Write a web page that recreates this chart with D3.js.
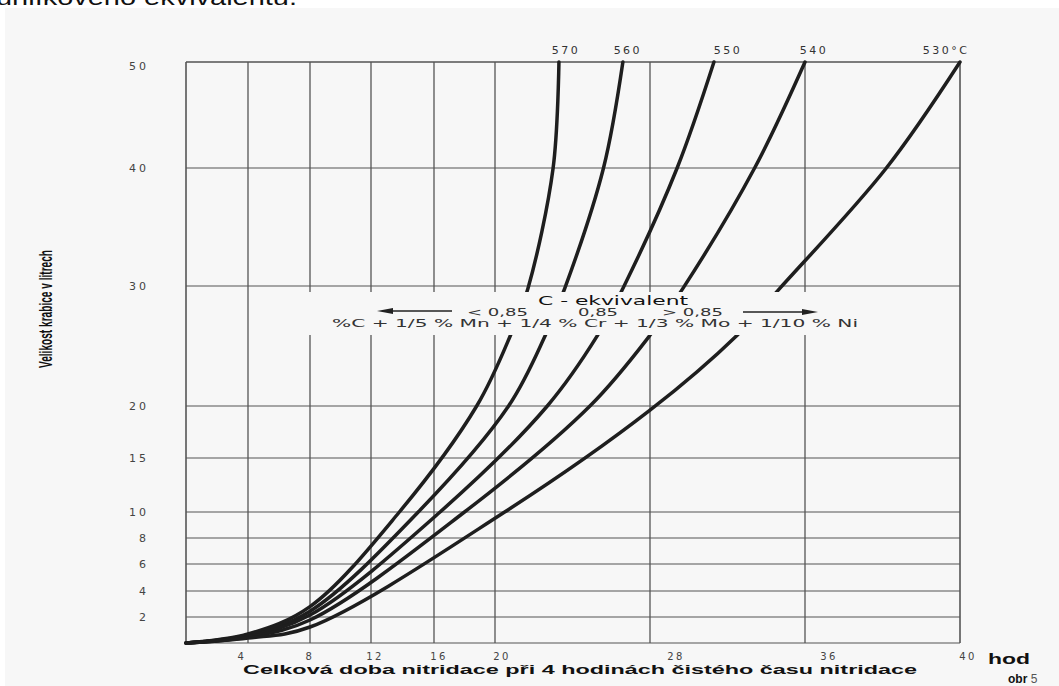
<!DOCTYPE html>
<html>
<head>
<meta charset="utf-8">
<script src="https://cdn.jsdelivr.net/npm/d3@7"></script>
<style>
  body { margin: 0; background: #fff; }
  svg { display: block; }
</style>
</head>
<body>
<svg id="chart" width="1059" height="686"></svg>
<script>
// grid values (hours / litres)
var hourTicks = [0, 4, 8, 12, 16, 20, 28, 36, 40];
var litreTicks = [0, 2, 4, 6, 8, 10, 15, 20, 30, 40, 50];

// curve labels (temperature)
var temps = ["570", "560", "550", "540", "530°C"];

// curves: [hours, litres]
var hours570 = [0, 4, 8, 13.8, 18.8, 20.8, 21.7, 23.0, 23.3];
var litres570 = [0, 0.69, 2.8, 10, 20, 25.9, 29.8, 40, 50];

var hours560 = [0, 4, 8, 15.0, 20.7, 22.6, 23.6, 25.6, 26.6];
var litres560 = [0, 0.62, 2.45, 10, 20, 25.9, 29.8, 40, 50];

var hours550 = [0, 4, 8, 16.4, 22.7, 25.3, 26.6, 29.4, 31.3];
var litres550 = [0, 0.54, 2.15, 10, 20, 25.9, 29.8, 40, 50];

var hours540 = [0, 4, 8, 18.0, 24.9, 28, 29.7, 33.4, 36.0];
var litres540 = [0, 0.46, 1.77, 10, 20, 25.9, 29.8, 40, 50];

var hours530 = [0, 4, 8, 20.5, 28, 32.5, 34.7, 38.1, 40];
var litres530 = [0, 0.38, 1.23, 10, 19.6, 25.9, 29.8, 40, 50];

var seriesHours = [hours570, hours560, hours550, hours540, hours530];
var seriesLitres = [litres570, litres560, litres550, litres540, litres530];

var svg = d3.select("#chart");

// scanned paper
svg.append("rect").attr("x", 0).attr("y", 0).attr("width", 1059).attr("height", 686).attr("fill", "#fff");
svg.append("rect").attr("x", 5).attr("y", 8).attr("width", 1054).attr("height", 678).attr("fill", "#f7f7f7");

// cut-off sentence from the page above
svg.append("text")
  .attr("x", -4).attr("y", 5)
  .attr("textLength", 301).attr("lengthAdjust", "spacingAndGlyphs")
  .style("font-family", "Liberation Sans, Arial, sans-serif")
  .style("font-size", "22px")
  .attr("fill", "#111")
  .text("uhlíkového ekvivalentu.");

// the axes of the nomogram are not evenly spaced, so piecewise scales
var x = d3.scaleLinear()
  .domain(hourTicks)
  .range([186, 248, 310, 371, 434, 495, 650, 805, 960]);
var y = d3.scaleLinear()
  .domain(litreTicks)
  .range([643, 617, 591, 564, 538, 512, 458, 406, 286, 168, 62]);

var grid = svg.append("g").attr("stroke", "#555").attr("stroke-width", 1.2);

grid.selectAll(".hline")
  .data(litreTicks)
  .enter().append("line")
  .attr("x1", x(0)).attr("x2", x(40))
  .attr("y1", d => y(d)).attr("y2", d => y(d));
grid.append("line")
  .attr("x1", x(0)).attr("x2", x(40))
  .attr("y1", y(50)).attr("y2", y(50));

grid.selectAll(".vline")
  .data(hourTicks)
  .enter().append("line")
  .attr("x1", d => x(d)).attr("x2", d => x(d))
  .attr("y1", y(0)).attr("y2", y(50))
  .attr("stroke-width", d => (d == 0 || d == 40) ? 1.6 : 1.3);

// curves
var line = d3.line()
  .x(d => x(d[0]))
  .y(d => y(d[1]))
  .curve(d3.curveCatmullRom.alpha(0.5));

svg.append("g")
  .selectAll("path")
  .data(seriesHours.map((h, i) => h.map((v, j) => [v, seriesLitres[i][j]])))
  .enter().append("path")
  .attr("d", line)
  .attr("fill", "none")
  .attr("stroke", "#1e1e1e")
  .attr("stroke-width", 3.5)
  .attr("stroke-linecap", "round");

// blank band for the C-ekvivalent note
svg.append("rect")
  .attr("x", 296).attr("y", 292)
  .attr("width", 574).attr("height", 43)
  .attr("fill", "#f7f7f7");

var note = svg.append("g").style("font-family", "DejaVu Sans, Verdana, sans-serif");
note.append("text")
  .attr("x", 538).attr("y", 305)
  .attr("textLength", 150).attr("lengthAdjust", "spacingAndGlyphs")
  .style("font-size", "12px").attr("fill", "#111")
  .text("C - ekvivalent");
note.append("text")
  .attr("x", 467).attr("y", 316)
  .attr("textLength", 61).attr("lengthAdjust", "spacingAndGlyphs")
  .style("font-size", "10px").attr("fill", "#333")
  .text("< 0,85");
note.append("text")
  .attr("x", 578).attr("y", 316)
  .attr("textLength", 40).attr("lengthAdjust", "spacingAndGlyphs")
  .style("font-size", "10px").attr("fill", "#333")
  .text("0,85");
note.append("text")
  .attr("x", 662).attr("y", 316)
  .attr("textLength", 61).attr("lengthAdjust", "spacingAndGlyphs")
  .style("font-size", "10px").attr("fill", "#333")
  .text("> 0,85");
note.append("text")
  .attr("x", 332).attr("y", 327)
  .attr("textLength", 526).attr("lengthAdjust", "spacingAndGlyphs")
  .style("font-size", "10px").attr("fill", "#333")
  .text("%C + 1/5 % Mn + 1/4 % Cr + 1/3 % Mo + 1/10 % Ni");

// arrows
note.append("line").attr("x1", 390).attr("x2", 452).attr("y1", 311).attr("y2", 311)
  .attr("stroke", "#222").attr("stroke-width", 1.3);
note.append("path").attr("d", "M377,311 L393,308 L393,314 Z").attr("fill", "#222");
note.append("line").attr("x1", 743).attr("x2", 805).attr("y1", 312).attr("y2", 312)
  .attr("stroke", "#222").attr("stroke-width", 1.3);
note.append("path").attr("d", "M818,312 L802,309 L802,315 Z").attr("fill", "#222");

// y tick labels
svg.append("g")
  .selectAll("text")
  .data(litreTicks.filter(d => d > 0))
  .enter().append("text")
  .attr("x", 149)
  .attr("y", d => y(d) + (d == 50 ? 8 : 4))
  .attr("text-anchor", "end")
  .style("font-family", "DejaVu Sans, Verdana, sans-serif")
  .style("font-size", "11px")
  .style("letter-spacing", "3px")
  .attr("fill", "#444")
  .text(d => d);

// x tick labels (the scan has them nudged right of their lines)
var xTickDx = [-6, 0, 4, 5, 7, 26, 24, 8];
svg.append("g")
  .selectAll("text")
  .data(hourTicks.filter(d => d > 0))
  .enter().append("text")
  .attr("x", (d, i) => x(d) + xTickDx[i])
  .attr("y", 660)
  .attr("text-anchor", "middle")
  .style("font-family", "DejaVu Sans, Verdana, sans-serif")
  .style("font-size", "10px")
  .style("letter-spacing", "2.5px")
  .attr("fill", "#444")
  .text(d => d);

// temperature labels at the top end of each curve
var tempDx = [7, 5, 14, 9, -14];
svg.append("g")
  .selectAll("text")
  .data(temps)
  .enter().append("text")
  .attr("x", (d, i) => x(seriesHours[i][seriesHours[i].length - 1]) + tempDx[i])
  .attr("y", 54)
  .attr("text-anchor", "middle")
  .style("font-family", "DejaVu Sans, Verdana, sans-serif")
  .style("font-size", "11px")
  .style("letter-spacing", "2.5px")
  .attr("fill", "#333")
  .text(d => d);

// axis titles
svg.append("text")
  .attr("x", 243).attr("y", 674)
  .attr("textLength", 674).attr("lengthAdjust", "spacingAndGlyphs")
  .style("font-family", "Liberation Sans, Arial, sans-serif")
  .style("font-size", "13px").style("font-weight", "bold")
  .attr("fill", "#111")
  .text("Celková doba nitridace při 4 hodinách čistého času nitridace");

svg.append("text")
  .attr("x", 988).attr("y", 664)
  .attr("textLength", 42).attr("lengthAdjust", "spacingAndGlyphs")
  .style("font-family", "Liberation Sans, Arial, sans-serif")
  .style("font-size", "15px").style("font-weight", "bold")
  .attr("fill", "#111")
  .text("hod");

var obr = svg.append("text")
  .attr("x", 1008).attr("y", 683)
  .style("font-family", "Liberation Sans, Arial, sans-serif")
  .style("font-size", "12px")
  .attr("fill", "#111");
obr.append("tspan").style("font-weight", "bold").text("obr ");
obr.append("tspan").attr("fill", "#555").text("5");

svg.append("text")
  .attr("transform", "translate(52,309) rotate(-90)")
  .attr("text-anchor", "middle")
  .attr("textLength", 118).attr("lengthAdjust", "spacingAndGlyphs")
  .style("font-family", "Liberation Sans Narrow, Liberation Sans, Arial, sans-serif")
  .style("font-size", "18px").style("font-weight", "bold")
  .attr("fill", "#111")
  .text("Velikost krabice v litrech");
</script>
</body>
</html>
